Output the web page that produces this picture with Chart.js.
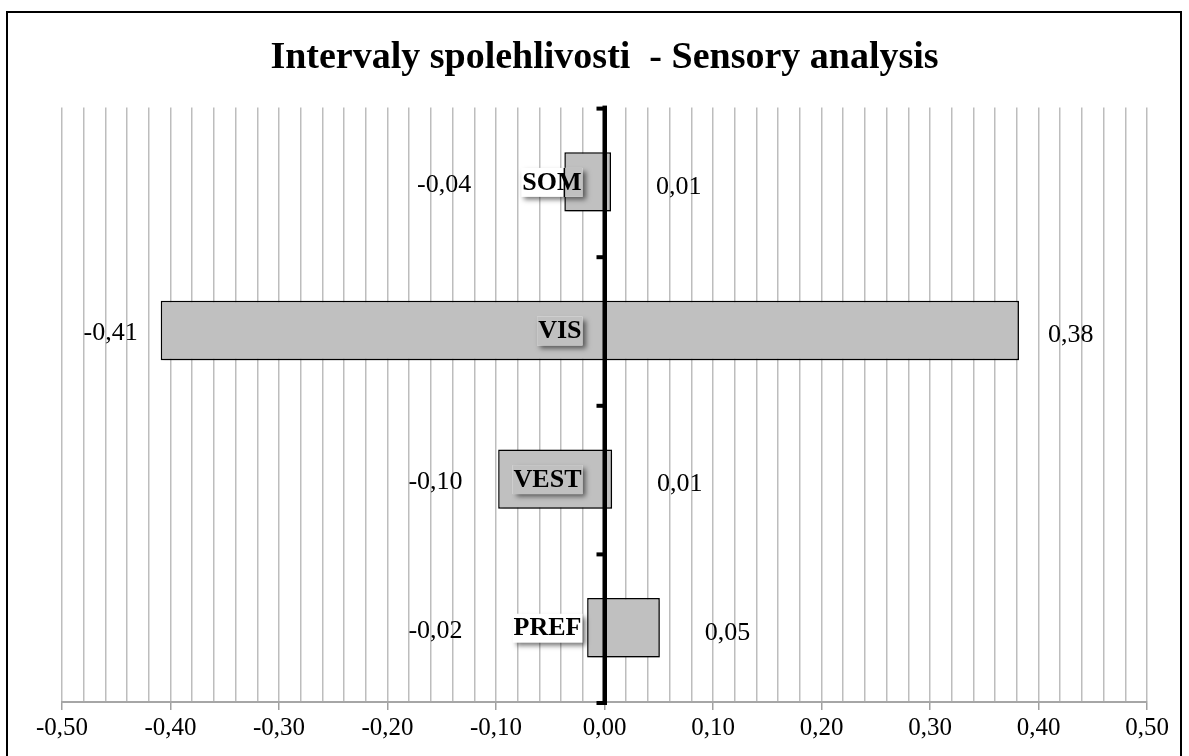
<!DOCTYPE html>
<html>
<head>
<meta charset="utf-8">
<script src="https://cdn.jsdelivr.net/npm/chart.js@4.4.1/dist/chart.umd.min.js"></script>
<style>
  html, body { margin: 0; padding: 0; background: #fff; }
  #wrap { width: 1189px; height: 756px; }
</style>
</head>
<body>
<div id="wrap"><canvas id="ci-chart" width="1189" height="756"></canvas></div>
<script>
// Interval data (low / high bound per category)
const categories = ['SOM', 'VIS', 'VEST', 'PREF'];
const lowValues = [-0.037, -0.409, -0.098, -0.016];
const highValues = [0.006, 0.382, 0.007, 0.051];
const axisMin = -0.5;
const axisMax = 0.5;
const gridStep = 0.02;
const titleText = 'Intervaly spolehlivosti  - Sensory analysis';

const SERIF = "'Liberation Serif', 'Times New Roman', serif";
const GRID = '#bdbdbd';
const BAR = '#c0c0c0';

function fmt(v) {
  return v.toFixed(2).replace('.', ',');
}

function isMajor(v) {
  return Math.abs(v * 10 - Math.round(v * 10)) < 1e-6;
}

const overlayPlugin = {
  id: 'overlay',
  beforeDraw(chart) {
    const ctx = chart.ctx;
    ctx.save();
    ctx.fillStyle = '#fff';
    ctx.fillRect(0, 0, chart.width, chart.height);
    ctx.strokeStyle = '#000';
    ctx.lineWidth = 2;
    ctx.strokeRect(7, 12, 1174, 800);
    ctx.restore();
  },
  beforeDatasetsDraw(chart) {
    const ctx = chart.ctx;
    ctx.save();
    ctx.shadowColor = 'rgba(0,0,0,0.35)';
    ctx.shadowBlur = 4;
    ctx.shadowOffsetX = 2;
    ctx.shadowOffsetY = 2;
  },
  afterDatasetsDraw(chart) {
    const ctx = chart.ctx;
    ctx.restore();
    const area = chart.chartArea;
    const xs = chart.scales.x;
    const zeroX = xs.getPixelForValue(0);
    const meta = chart.getDatasetMeta(0);

    // vertical axis through zero
    ctx.save();
    ctx.fillStyle = '#000';
    ctx.fillRect(zeroX - 2, area.top - 2, 4.5, area.bottom - area.top + 5);
    const band = (area.bottom - area.top) / categories.length;
    for (let i = 0; i <= categories.length; i++) {
      const y = area.top + band * i;
      ctx.fillRect(zeroX - 8, y - 1, 7, 4);
    }
    ctx.restore();

    // category labels and value labels
    meta.data.forEach((bar, i) => {
      const yc = bar.y;
      const left = Math.min(bar.x, bar.base);
      const right = Math.max(bar.x, bar.base);
      const top = yc - bar.height / 2;

      ctx.save();
      ctx.font = 'bold 26px ' + SERIF;
      const w = ctx.measureText(categories[i]).width;
      const boxR = zeroX - 22;
      const boxL = boxR - w - 2;
      const boxT = yc - 14;
      const boxH = 29;

      ctx.shadowColor = 'rgba(0,0,0,0.55)';
      ctx.shadowBlur = 5;
      ctx.shadowOffsetX = 3;
      ctx.shadowOffsetY = 3;
      ctx.fillStyle = '#fff';
      ctx.fillRect(boxL, boxT, boxR - boxL, boxH);
      ctx.shadowColor = 'transparent';

      // part of the box lying over the bar keeps the bar colour
      const iL = Math.max(boxL, left);
      const iR = Math.min(boxR, right);
      if (iR > iL) {
        ctx.fillStyle = BAR;
        ctx.fillRect(iL, boxT, iR - iL, boxH);
        ctx.save();
        ctx.beginPath();
        ctx.rect(boxL, boxT, boxR - boxL, boxH);
        ctx.clip();
        ctx.strokeStyle = '#000';
        ctx.lineWidth = 1.5;
        ctx.strokeRect(left, top, right - left, bar.height);
        ctx.restore();
      }

      ctx.fillStyle = '#000';
      ctx.textBaseline = 'middle';
      ctx.textAlign = 'right';
      ctx.fillText(categories[i], boxR - 1, yc + 1);

      ctx.font = '26px ' + SERIF;
      const lowR = Math.min(left - 23, boxL - 50);
      ctx.textAlign = 'right';
      ctx.fillText(fmt(lowValues[i]), lowR, yc + 3);
      const gap = right - zeroX > 100 ? 29 : 45;
      ctx.textAlign = 'left';
      ctx.fillText(fmt(highValues[i]), right + gap, yc + 5);
      ctx.restore();
    });
  }
};

const ctx = document.getElementById('ci-chart').getContext('2d');
const chart = new Chart(ctx, {
  type: 'bar',
  data: {
    labels: categories,
    datasets: [{
      data: categories.map((c, i) => [lowValues[i], highValues[i]]),
      backgroundColor: BAR,
      borderColor: '#000',
      borderWidth: 1.5,
      borderSkipped: false,
      categoryPercentage: 0.8,
      barPercentage: 0.5
    }]
  },
  options: {
    indexAxis: 'y',
    responsive: false,
    animation: false,
    devicePixelRatio: 1,
    layout: { padding: { left: 62, right: 42, top: 0, bottom: 10 } },
    plugins: {
      legend: { display: false },
      tooltip: { enabled: false },
      title: {
        display: true,
        text: titleText,
        color: '#000',
        font: { family: SERIF, size: 38, weight: 'bold', lineHeight: 1.2 },
        padding: { top: 35, bottom: 27 }
      }
    },
    scales: {
      x: {
        type: 'linear',
        min: axisMin,
        max: axisMax,
        grid: {
          color: GRID,
          lineWidth: 1.5,
          drawTicks: true,
          tickLength: 8,
          tickColor: c => (c.tick && isMajor(c.tick.value)) ? '#a0a0a0' : 'rgba(0,0,0,0)',
          tickWidth: 1.5
        },
        border: { display: true, color: '#a6a6a6', width: 2 },
        ticks: {
          stepSize: gridStep,
          autoSkip: false,
          maxRotation: 0,
          padding: 3,
          color: '#000',
          font: { family: SERIF, size: 25 },
          callback: v => isMajor(v) ? fmt(v) : ''
        }
      },
      y: {
        display: false,
        grid: { display: false }
      }
    }
  },
  plugins: [overlayPlugin]
});
</script>
</body>
</html>
